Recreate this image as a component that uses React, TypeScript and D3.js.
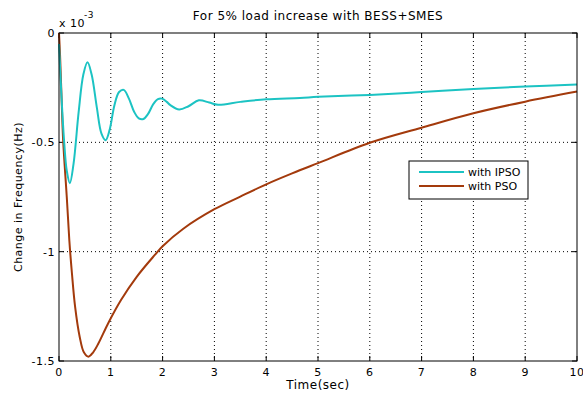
import React from 'react';
import * as d3 from 'd3';

// time in seconds, frequency deviation in units of 1e-3 Hz
const ipsoT = [0, 0.05, 0.1, 0.15, 0.21, 0.28, 0.38, 0.47, 0.55, 0.63, 0.73, 0.82, 0.9, 0.98, 1.07, 1.16, 1.25, 1.35, 1.45, 1.54, 1.63, 1.72, 1.82, 1.91, 1.99, 2.08, 2.15, 2.32, 2.5, 2.7, 2.9, 3.07, 3.5, 4.0, 4.65, 5.0, 6.0, 7.0, 8.0, 9.0, 10.0];
const ipsoV = [-0.05, -0.3, -0.5, -0.63, -0.687, -0.6, -0.36, -0.19, -0.134, -0.19, -0.34, -0.46, -0.49, -0.44, -0.33, -0.27, -0.26, -0.3, -0.36, -0.39, -0.393, -0.37, -0.325, -0.302, -0.30, -0.315, -0.33, -0.35, -0.335, -0.308, -0.318, -0.328, -0.315, -0.303, -0.297, -0.292, -0.283, -0.27, -0.256, -0.245, -0.235];

const psoT = [0, 0.02, 0.05, 0.08, 0.15, 0.2, 0.25, 0.31, 0.4, 0.48, 0.57, 0.66, 0.76, 0.95, 1.2, 1.5, 1.85, 2.0, 2.4, 3.0, 3.5, 4.0, 4.5, 5.0, 6.0, 7.0, 8.0, 9.0, 10.0];
const psoV = [0, -0.1, -0.3, -0.49, -0.75, -0.95, -1.1, -1.25, -1.39, -1.46, -1.48, -1.46, -1.42, -1.327, -1.22, -1.115, -1.015, -0.975, -0.895, -0.806, -0.748, -0.692, -0.642, -0.595, -0.502, -0.433, -0.367, -0.314, -0.268];

const xTicks = [0, 1, 2, 3, 4, 5, 6, 7, 8, 9, 10];
const yTicks = [0, -0.5, -1, -1.5];
const yTickLabels = ['0', '-0.5', '-1', '-1.5'];

const legendNames = ['with IPSO', 'with PSO'];
const colors = ['#1cc3c3', '#a33a0c'];

const W = 583;
const H = 398;
const left = 59, right = 577, top = 33, bottom = 361;
const font = '"DejaVu Sans", Verdana, sans-serif';

export default function App() {
  const x = d3.scaleLinear().domain([0, 10]).range([left, right]);
  const y = d3.scaleLinear().domain([-1.5, 0]).range([bottom, top]);

  const line = d3.line<[number, number]>()
    .x(d => x(d[0]))
    .y(d => y(d[1]))
    .curve(d3.curveCatmullRom.alpha(0.5));

  const ipso = ipsoT.map((t, i) => [t, ipsoV[i]] as [number, number]);
  const pso = psoT.map((t, i) => [t, psoV[i]] as [number, number]);

  const legX = 409, legY = 161, legW = 119, legH = 38;
  const fs = 11;
  const ls = 0.5;

  return (
    <svg width={W} height={H} style={{ position: 'absolute', left: 0, top: 0, background: '#fff' }} fontFamily={font} letterSpacing={ls}>
      <rect x={0} y={0} width={W} height={H} fill="#fff" />
      {/* grid */}
      {xTicks.slice(1, -1).map(t => (
        <line key={'gx' + t} x1={x(t)} x2={x(t)} y1={top} y2={bottom} stroke="#000" strokeWidth={1} strokeDasharray="1,3" />
      ))}
      {yTicks.slice(1, -1).map(t => (
        <line key={'gy' + t} x1={left} x2={right} y1={y(t)} y2={y(t)} stroke="#000" strokeWidth={1} strokeDasharray="1,3" />
      ))}
      {/* ticks, inward on all sides */}
      {xTicks.map(t => (
        <g key={'tx' + t}>
          <line x1={x(t)} x2={x(t)} y1={bottom} y2={bottom - 5} stroke="#000" />
          <line x1={x(t)} x2={x(t)} y1={top} y2={top + 5} stroke="#000" />
          <text x={x(t)} y={bottom + 15} fontSize={fs} textAnchor="middle">{t}</text>
        </g>
      ))}
      {yTicks.map((t, i) => (
        <g key={'ty' + t}>
          <line x1={left} x2={left + 5} y1={y(t)} y2={y(t)} stroke="#000" />
          <line x1={right} x2={right - 5} y1={y(t)} y2={y(t)} stroke="#000" />
          <text x={left - 4} y={y(t) + 4} fontSize={fs} textAnchor="end">{yTickLabels[i]}</text>
        </g>
      ))}
      {/* series */}
      <path d={line(pso) || ''} fill="none" stroke={colors[1]} strokeWidth={2} />
      <path d={line(ipso) || ''} fill="none" stroke={colors[0]} strokeWidth={2} />
      {/* box */}
      <rect x={left} y={top} width={right - left} height={bottom - top} fill="none" stroke="#000" strokeWidth={1} />
      {/* exponent */}
      <text x={left} y={27} fontSize={fs}>x 10</text>
      <text x={left + 25} y={18} fontSize={9}>-3</text>
      {/* title and labels */}
      <text x={318} y={20} fontSize={12} textAnchor="middle">For 5% load increase with BESS+SMES</text>
      <text x={318} y={389} fontSize={12} textAnchor="middle">Time(sec)</text>
      <text transform={`translate(22,${(top + bottom) / 2}) rotate(-90)`} fontSize={fs} textAnchor="middle">Change in Frequency(Hz)</text>
      {/* legend */}
      <rect x={legX} y={legY} width={legW} height={legH} fill="#fff" stroke="#000" strokeWidth={1} />
      {legendNames.map((n, i) => (
        <g key={n}>
          <line x1={legX + 10} x2={legX + 55} y1={legY + 11 + i * 14} y2={legY + 11 + i * 14} stroke={colors[i]} strokeWidth={2} />
          <text x={legX + 59} y={legY + 15 + i * 14} fontSize={fs} letterSpacing={0}>{n}</text>
        </g>
      ))}
    </svg>
  );
}
